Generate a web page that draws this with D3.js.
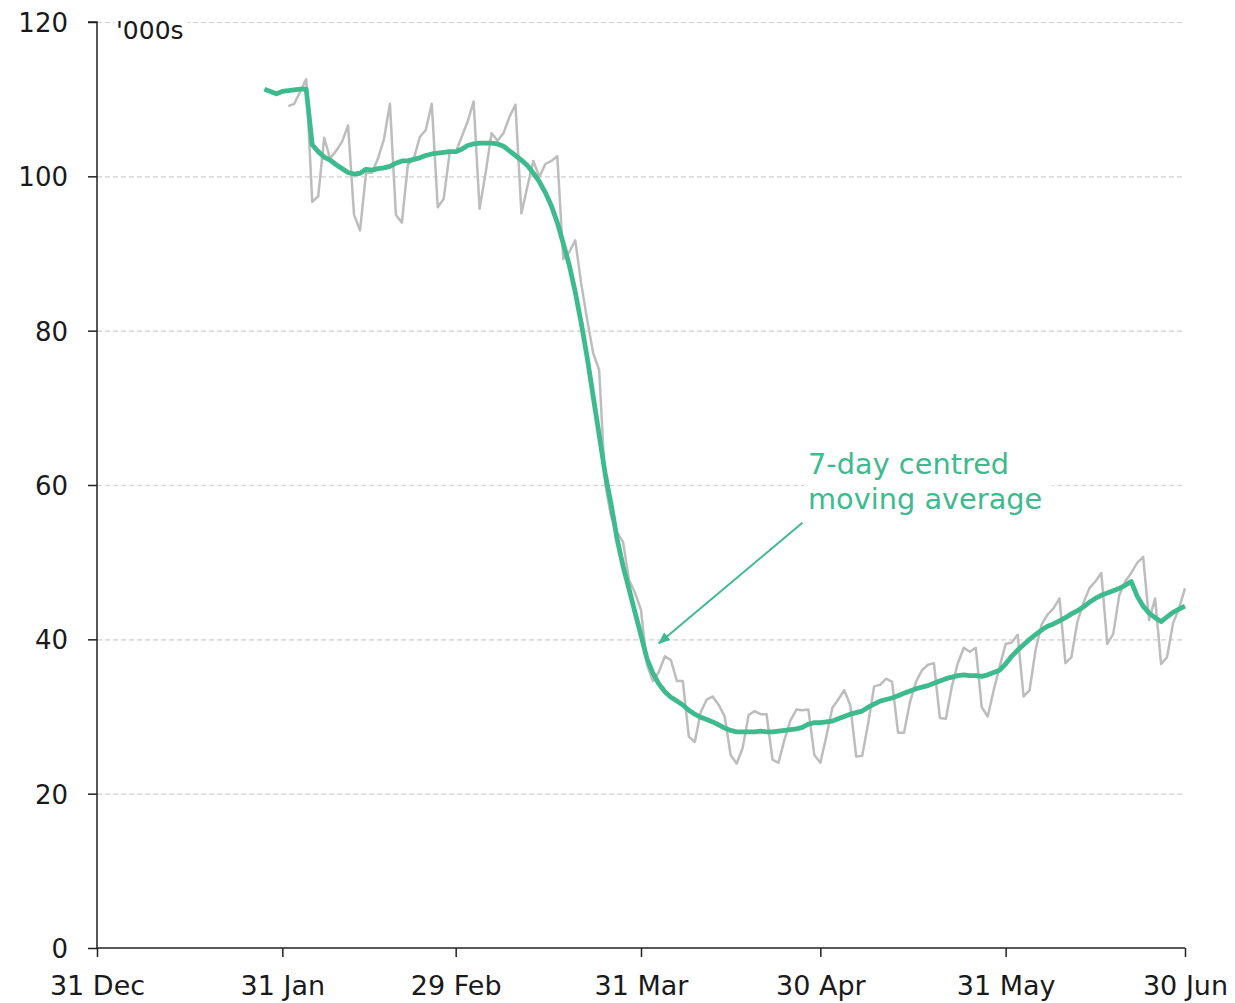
<!DOCTYPE html>
<html>
<head>
<meta charset="utf-8">
<script src="https://cdn.jsdelivr.net/npm/d3@7"></script>
<style>
  html, body { margin: 0; padding: 0; background: #fff; }
  svg { display: block; }
  text { font-family: "DejaVu Sans", sans-serif; }
</style>
</head>
<body>
<svg id="chart" width="1235" height="1003"></svg>
<script>
// ---- Data ----
const xTickDates = ["2019-12-31","2020-01-31","2020-02-29","2020-03-31","2020-04-30","2020-05-31","2020-06-30"];
const xTickLabels = ["31 Dec","31 Jan","29 Feb","31 Mar","30 Apr","31 May","30 Jun"];
const yTicks = [0, 20, 40, 60, 80, 100, 120];

// Daily values (thousands), starting 1 Feb 2020
const dailyStart = "2020-02-01";
const dailyValues = [
  109.1,109.4,111.0,112.6,96.7,97.4,105.0,102.3,103.3,104.5,106.6,95.0,93.0,100.4,
  100.5,102.3,104.8,109.4,95.0,94.0,101.5,102.3,105.1,106.0,109.4,96.0,97.1,103.1,
  103.1,105.1,107.1,109.7,95.8,100.4,105.6,104.6,105.6,107.7,109.3,95.2,98.7,102.0,
  99.9,101.6,102.0,102.6,89.3,90.2,91.7,86.1,81.4,77.1,74.9,60.2,55.9,53.9,
  52.6,47.7,46.0,43.8,36.7,34.6,35.8,37.8,37.3,34.6,34.6,27.4,26.7,30.6,
  32.2,32.6,31.5,30.0,25.0,23.9,25.9,30.2,30.7,30.3,30.3,24.4,24.0,27.0,
  29.5,30.9,30.8,30.9,25.0,24.0,27.4,31.1,32.2,33.4,31.5,24.8,24.9,29.1,
  33.9,34.1,34.9,34.5,27.9,27.9,31.9,34.5,36.0,36.7,36.9,29.8,29.7,33.9,
  36.9,38.9,38.4,38.9,31.2,30.0,33.4,36.5,39.4,39.6,40.6,32.6,33.4,38.6,
  41.9,43.2,44.0,45.3,36.9,37.7,42.3,44.7,46.6,47.5,48.6,39.4,40.7,45.7,
  47.5,48.6,49.9,50.7,42.5,45.3,36.8,37.7,42.1,44.0,46.6
];

// 7-day centred moving average (thousands), starting 28 Jan 2020
const maStart = "2020-01-28";
const maValues = [
  111.3,111.0,110.7,111.0,111.1,111.2,111.3,111.3,104.1,103.2,102.5,102.1,101.5,101.0,
  100.5,100.3,100.4,100.9,100.8,101.0,101.1,101.3,101.7,102.0,102.0,102.2,102.4,102.7,
  102.9,103.0,103.1,103.2,103.2,103.5,104.0,104.2,104.3,104.3,104.3,104.2,103.9,103.3,
  102.7,102.1,101.4,100.4,99.3,97.9,96.2,94.0,91.3,88.5,85.0,81.0,76.5,71.5,
  66.5,61.5,57.5,53.0,49.5,46.5,43.5,40.5,37.5,35.6,34.2,33.2,32.5,32.0,
  31.5,30.8,30.3,29.9,29.6,29.3,28.9,28.5,28.2,28.0,28.0,28.0,28.0,28.1,
  28.0,28.0,28.1,28.2,28.3,28.4,28.6,29.0,29.2,29.2,29.3,29.4,29.7,30.0,
  30.3,30.5,30.7,31.2,31.6,32.0,32.2,32.4,32.7,33.0,33.3,33.6,33.8,34.0,
  34.3,34.6,34.9,35.1,35.3,35.4,35.3,35.3,35.2,35.4,35.7,36.0,36.8,37.8,
  38.6,39.3,40.0,40.6,41.2,41.7,42.0,42.4,42.8,43.3,43.7,44.2,44.8,45.3,
  45.7,46.0,46.3,46.6,47.0,47.5,45.6,44.3,43.4,42.8,42.3,42.9,43.5,43.9,44.3
];

const unitLabel = "'000s";
const annotationLines = ["7-day centred", "moving average"];
const annotationArrowFrom = ["2020-04-27", 55.1];
const annotationArrowTo = ["2020-04-03", 39.5];

// ---- Setup ----
const parse = d3.utcParse("%Y-%m-%d");
const svg = d3.select("#chart");
const margin = { left: 97, right: 50, top: 22, bottom: 55 };
const W = 1235, H = 1003;
const FONT = "'DejaVu Sans', sans-serif";

const x = d3.scaleUtc()
  .domain([parse(xTickDates[0]), parse(xTickDates[xTickDates.length - 1])])
  .range([margin.left, W - margin.right]);
const y = d3.scaleLinear().domain([0, 120]).range([H - margin.bottom, margin.top]);

const green = "#3dba8e";
const grey = "#bdbdbd";

const toSeries = (start, vals) => vals.map((v, i) => ({ date: d3.utcDay.offset(parse(start), i), v }));
const daily = toSeries(dailyStart, dailyValues);
const ma = toSeries(maStart, maValues);

// Gridlines
const grid = svg.append("g")
  .attr("transform", `translate(${margin.left},0)`)
  .call(d3.axisLeft(y).tickValues(yTicks.filter(t => t > 0)).tickSize(-(W - margin.right - margin.left)).tickFormat(""));
grid.select(".domain").remove();
grid.selectAll("line").attr("stroke", "#cfcfcf").attr("stroke-width", 1.2).attr("stroke-dasharray", "5,3");

// Lines
const line = d3.line().x(d => x(d.date)).y(d => y(d.v));
svg.append("path").datum(daily).attr("d", line)
  .attr("fill", "none").attr("stroke", grey).attr("stroke-width", 2.5).attr("stroke-linejoin", "round");
svg.append("path").datum(ma).attr("d", line)
  .attr("fill", "none").attr("stroke", green).attr("stroke-width", 4.8).attr("stroke-linejoin", "round");

// Y axis
const yAxis = svg.append("g")
  .attr("transform", `translate(${margin.left},0)`)
  .call(d3.axisLeft(y).tickValues(yTicks).tickSize(9).tickPadding(20).tickFormat(d3.format("d")));
yAxis.select(".domain").attr("stroke", "#222").attr("stroke-width", 1.5).attr("d", `M-9,${y(120)}H0V${y(0)}`);
yAxis.selectAll(".tick line").attr("stroke", "#222").attr("stroke-width", 1.5);
yAxis.selectAll(".tick text").attr("font-size", 26).attr("fill", "#1a1a1a").attr("dy", "0.36em")
  .style("font-family", FONT);

// X axis
const xAxis = svg.append("g")
  .attr("transform", `translate(0,${y(0)})`)
  .call(d3.axisBottom(x).tickValues(xTickDates.map(parse)).tickSize(9).tickPadding(19)
    .tickFormat((d, i) => xTickLabels[i]));
xAxis.select(".domain").attr("stroke", "#222").attr("stroke-width", 1.5).attr("d", `M${x.range()[0]},0H${x.range()[1]}`);
xAxis.selectAll(".tick line").attr("stroke", "#222").attr("stroke-width", 1.5);
xAxis.selectAll(".tick text").attr("font-size", 27).attr("fill", "#1a1a1a").attr("dy", "0.69em")
  .style("font-family", FONT);

// Unit label with white background
const ul = svg.append("g");
const ulText = ul.append("text").attr("x", 116).attr("y", y(120) + 17)
  .attr("font-size", 25).attr("fill", "#1a1a1a").text(unitLabel);
const ub = ulText.node().getBBox();
ul.insert("rect", "text").attr("x", ub.x - 2).attr("y", ub.y).attr("width", ub.width + 6).attr("height", ub.height).attr("fill", "#fff");

// Annotation
const ann = svg.append("g");
const annX = 808;
const annTexts = annotationLines.map((t, i) =>
  ann.append("text").attr("x", annX).attr("y", y(60) - 11 + i * 35)
    .attr("font-size", 28.8).attr("fill", green).text(t));
let bx0 = Infinity, bx1 = -Infinity, by0 = Infinity, by1 = -Infinity;
annTexts.forEach(t => { const b = t.node().getBBox(); bx0 = Math.min(bx0, b.x); bx1 = Math.max(bx1, b.x + b.width); by0 = Math.min(by0, b.y); by1 = Math.max(by1, b.y + b.height); });
ann.insert("rect", "text").attr("x", bx0 - 4).attr("y", by0).attr("width", bx1 - bx0 + 14).attr("height", by1 - by0).attr("fill", "#fff");

// Arrow
svg.append("defs").append("marker")
  .attr("id", "arrow").attr("viewBox", "0 0 10 10").attr("refX", 9).attr("refY", 5)
  .attr("markerWidth", 7).attr("markerHeight", 6).attr("orient", "auto")
  .append("path").attr("d", "M0,1L10,5L0,9z").attr("fill", green);
svg.append("line")
  .attr("x1", x(parse(annotationArrowFrom[0]))).attr("y1", y(annotationArrowFrom[1]))
  .attr("x2", x(parse(annotationArrowTo[0]))).attr("y2", y(annotationArrowTo[1]))
  .attr("stroke", green).attr("stroke-width", 2).attr("marker-end", "url(#arrow)");
</script>
</body>
</html>
